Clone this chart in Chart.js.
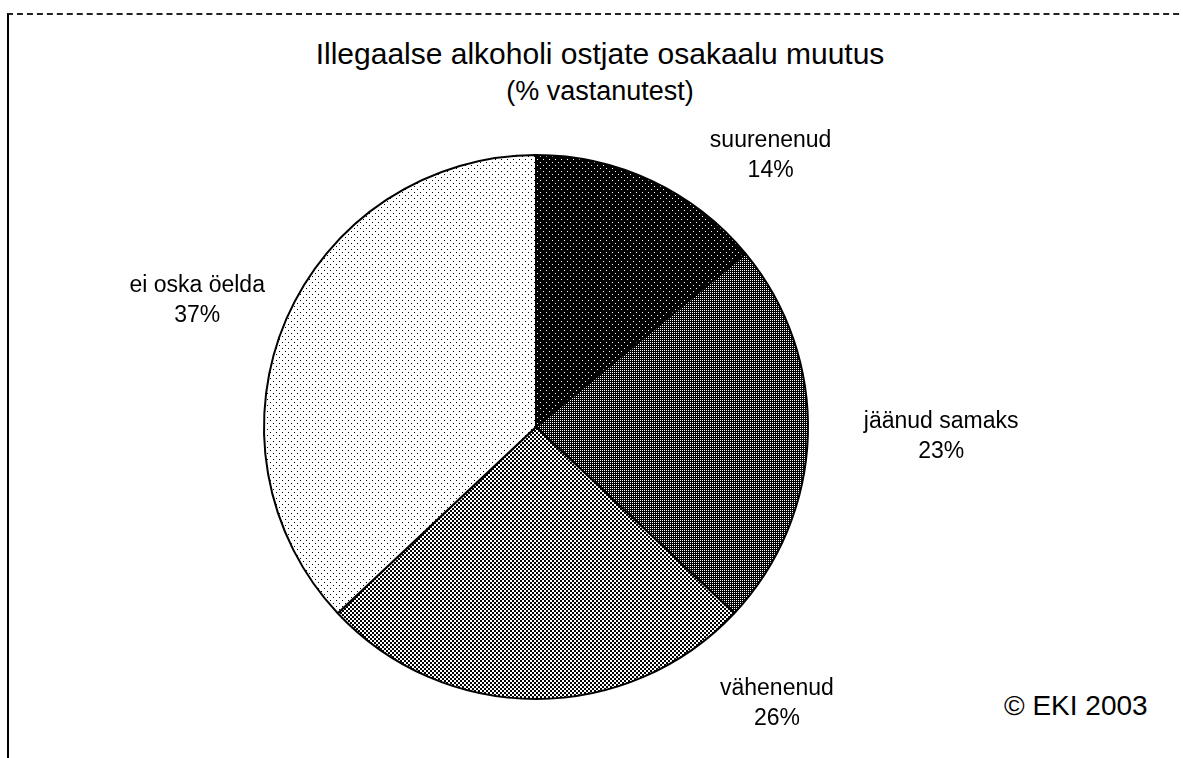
<!DOCTYPE html>
<html>
<head>
<meta charset="utf-8">
<script src="https://cdn.jsdelivr.net/npm/chart.js@4.4.1/dist/chart.umd.min.js"></script>
<style>
    html, body { margin: 0; padding: 0; background: #fff; }
    body { width: 1183px; height: 758px; position: relative; overflow: hidden; font-family: "Liberation Sans", Arial, sans-serif; color: #000; }
    #frame { position: absolute; left: 7px; top: 13px; width: 1200px; height: 800px; border-left: 2px solid #000; border-top: 2px dashed #222; }
    .title { position: absolute; left: 0; width: 1200px; text-align: center; white-space: nowrap; line-height: 1; }
    #t1 { top: 39px; font-size: 30px; }
    #t2 { top: 78px; font-size: 27px; }
    #copy { position: absolute; left: 1004px; top: 690px; font-size: 28px; white-space: nowrap; }
    #wrap { position: absolute; left: 0; top: 0; width: 1183px; height: 758px; }
</style>
</head>
<body>
<div id="frame"></div>
<div class="title" id="t1">Illegaalse alkoholi ostjate osakaalu muutus</div>
<div class="title" id="t2">(% vastanutest)</div>
<div id="copy">© EKI 2003</div>
<div id="wrap"><canvas id="pieChart"></canvas></div>
<script>
// andmed
const kategooriad = ['suurenenud', 'jäänud samaks', 'vähenenud', 'ei oska öelda'];
const osakaalud = [14, 23, 26, 37];

// siltide asukoht: nurk ülevalt päripäeva (kraadides) ja kaugus raadiuse suhtes
const sildiNurk = [40.8, 91.3, 139, 290.5];
const sildiKaugus = [1.32, 1.49, 1.35, 1.33];

// mustrid sektorite jaoks (skaneeritud rasterdus)
function makePattern(size, bg, fg, dots) {
    const c = document.createElement('canvas');
    c.width = size; c.height = size;
    const g = c.getContext('2d');
    g.fillStyle = bg;
    g.fillRect(0, 0, size, size);
    g.fillStyle = fg;
    dots.forEach(d => g.fillRect(d[0], d[1], d[2] || 1, d[3] || 1));
    return g.createPattern(c, 'repeat');
}

const mustrid = [
    makePattern(6, '#000', '#fff', [[0, 0], [3, 3]]),
    makePattern(2, '#000', '#fff', [[0, 0]]),
    makePattern(4, '#fff', '#000', [[0, 0, 2, 2], [2, 2, 2, 2]]),
    makePattern(6, '#fff', '#000', [[0, 0], [3, 3]])
];

const sildid = {
    id: 'sildid',
    afterDatasetsDraw(chart) {
        const ctx = chart.ctx;
        const meta = chart.getDatasetMeta(0);
        ctx.save();
        ctx.fillStyle = '#000';
        ctx.font = '23px "Liberation Sans", Arial, sans-serif';
        ctx.textAlign = 'center';
        ctx.textBaseline = 'middle';
        meta.data.forEach((arc, i) => {
            const a = sildiNurk[i] * Math.PI / 180;
            const r = arc.outerRadius * sildiKaugus[i];
            const x = arc.x + r * Math.sin(a);
            const y = arc.y - r * Math.cos(a);
            ctx.fillText(kategooriad[i], x, y - 15);
            ctx.fillText(osakaalud[i] + '%', x, y + 15);
        });
        ctx.restore();
    }
};

const ctxPie = document.getElementById('pieChart').getContext('2d');
new Chart(ctxPie, {
    type: 'pie',
    data: {
        labels: kategooriad,
        datasets: [{
            data: osakaalud,
            backgroundColor: mustrid,
            borderColor: '#000',
            borderWidth: 2
        }]
    },
    options: {
        responsive: true,
        maintainAspectRatio: false,
        animation: false,
        layout: { padding: { left: 263, right: 374, top: 154, bottom: 58 } },
        plugins: {
            legend: { display: false },
            tooltip: { enabled: false },
            title: { display: false }
        }
    },
    plugins: [sildid]
});
</script>
</body>
</html>
